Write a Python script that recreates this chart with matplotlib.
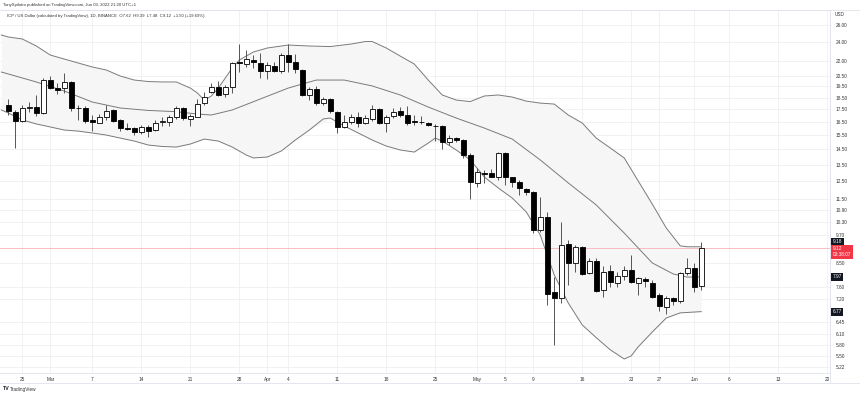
import numpy as np
import pandas as pd
import matplotlib
matplotlib.use("Agg")
import matplotlib.pyplot as plt
from matplotlib.ticker import NullLocator
from matplotlib.lines import Line2D

# ICP / USD daily candles
first_day = "2022-02-23"
open_ = [17.86, 17.28, 16.57, 17.63, 17.69, 17.20, 20.08, 19.30, 19.34, 19.90,
         17.61, 17.63, 16.65, 16.44, 16.86, 17.45, 16.65, 16.03, 16.00, 15.75,
         16.08, 15.88, 16.49, 16.52, 16.86, 17.59, 16.70, 16.91, 18.00, 18.95,
         19.41, 18.81, 19.44, 21.86, 21.70, 22.06, 21.71, 20.98, 21.45, 20.98,
         22.58, 21.81, 21.05, 18.72, 19.23, 18.00, 18.34, 17.32, 16.13, 16.52,
         16.91, 16.44, 16.70, 17.50, 16.39, 16.96, 17.40, 17.04, 16.53, 16.52,
         16.39, 16.22, 16.19, 15.03, 15.27, 15.15, 14.12, 12.41, 12.96, 12.96,
         12.76, 14.23, 12.72, 12.46, 12.02, 11.89, 9.93, 10.54, 7.41, 7.21,
         9.30, 8.52, 9.19, 8.10, 8.60, 7.51, 8.20, 7.75, 8.00, 8.23,
         7.75, 7.90, 7.75, 7.32, 6.92, 7.21, 7.10, 8.10, 8.30, 7.62]
high = [18.37, 17.45, 17.86, 18.11, 18.72, 20.27, 20.46, 19.77, 20.72, 19.96,
        17.86, 17.78, 17.04, 17.12, 17.86, 17.50, 16.70, 16.39, 16.08, 16.26,
        16.26, 16.65, 16.86, 17.04, 17.78, 17.72, 17.12, 18.34, 19.00, 19.83,
        20.01, 19.62, 21.90, 23.79, 23.12, 22.58, 22.76, 21.89, 21.89, 22.76,
        23.76, 22.68, 21.12, 19.46, 19.53, 18.52, 18.43, 17.40, 17.04, 17.12,
        17.32, 17.04, 17.86, 17.59, 17.04, 17.59, 17.72, 17.78, 17.04, 17.00,
        16.52, 16.34, 16.26, 15.51, 15.39, 15.20, 14.23, 13.27, 13.16, 13.20,
        14.34, 14.34, 12.76, 12.56, 12.08, 11.94, 11.60, 10.82, 7.97, 10.33,
        9.48, 9.26, 9.22, 8.70, 8.70, 8.37, 8.43, 8.17, 8.37, 8.83,
        7.97, 7.95, 7.85, 7.38, 7.29, 7.26, 8.17, 8.70, 8.52, 9.39]
low = [17.04, 14.60, 16.49, 17.28, 16.96, 17.12, 19.25, 18.81, 18.90, 17.37,
       16.65, 16.41, 15.83, 16.39, 16.65, 16.52, 15.83, 15.88, 15.51, 15.58,
       15.34, 15.83, 16.19, 16.19, 16.70, 16.65, 16.19, 16.86, 17.86, 18.88,
       18.63, 18.57, 18.90, 20.85, 21.38, 21.23, 20.24, 20.14, 20.89, 20.72,
       20.89, 20.78, 18.63, 18.28, 17.86, 17.86, 17.23, 15.63, 16.00, 16.34,
       16.08, 16.34, 16.60, 16.34, 15.75, 16.78, 16.91, 16.26, 16.26, 16.37,
       16.19, 15.08, 14.50, 14.80, 15.03, 13.90, 11.51, 12.18, 12.37, 12.72,
       12.56, 12.27, 12.18, 11.70, 11.70, 9.78, 9.85, 6.98, 5.79, 7.04,
       7.67, 8.17, 8.04, 8.08, 7.43, 7.26, 7.61, 7.61, 7.85, 7.73,
       7.32, 7.61, 7.21, 6.79, 6.71, 6.98, 7.06, 8.04, 7.43, 7.48]
close = [17.37, 16.57, 17.61, 17.70, 17.20, 20.10, 19.34, 19.16, 19.90, 17.61,
         17.57, 16.60, 16.49, 16.86, 17.39, 16.60, 16.00, 15.99, 15.75, 16.13,
         15.83, 16.44, 16.53, 16.86, 17.59, 16.78, 16.96, 17.94, 18.57, 19.41,
         18.72, 19.41, 21.79, 21.71, 22.13, 21.85, 20.98, 21.55, 20.98, 22.58,
         21.90, 21.12, 18.72, 19.23, 18.00, 18.34, 17.37, 16.08, 16.52, 16.91,
         16.44, 16.78, 17.50, 16.39, 16.91, 17.32, 17.04, 16.44, 16.49, 16.48,
         16.24, 16.19, 15.03, 15.27, 15.15, 14.12, 12.46, 13.06, 12.93, 12.76,
         14.23, 12.72, 12.46, 12.08, 11.85, 9.93, 10.54, 7.35, 7.21, 9.26,
         8.52, 9.19, 8.08, 8.60, 7.47, 8.17, 7.79, 8.00, 8.23, 7.79,
         7.91, 7.80, 7.24, 6.95, 7.21, 7.12, 8.10, 8.30, 7.61, 9.12]

# Bollinger bands (20, 2) read at sampled bars
upper_idx = [-1, 0, 2, 4, 6, 8, 10, 12, 14, 16, 18, 20, 22, 24, 26, 27, 28, 29, 30,
             31, 32, 33, 35, 37, 40, 43, 46, 49, 51, 52, 54, 56, 58, 60, 62, 64, 66,
             68, 70, 72, 74, 76, 78, 80, 82, 84, 86, 88, 90, 92, 94, 96, 97, 99]
upper = [24.81, 24.58, 24.35, 23.56, 22.58, 22.16, 21.75, 21.35, 21.05, 20.46,
         20.08, 19.94, 19.90, 19.90, 19.34, 18.90, 18.28, 18.63, 19.34, 20.27,
         21.25, 22.06, 22.90, 23.34, 23.67, 23.56, 23.50, 23.78, 24.06, 24.06,
         23.34, 22.47, 21.65, 20.08, 18.72, 18.28, 18.15, 18.63, 18.72, 18.54,
         18.19, 18.02, 17.94, 17.04, 16.41, 15.29, 14.60, 13.93, 12.50, 11.22,
         10.03, 9.22, 9.18, 9.18]
basis_idx = [-1, 0, 4, 8, 12, 16, 20, 24, 27, 29, 32, 36, 40, 44, 48, 52, 56, 60,
             64, 68, 72, 76, 80, 84, 88, 92, 95, 97, 99]
basis = [20.85, 20.66, 19.90, 19.07, 18.11, 17.61, 17.41, 17.31, 17.12, 17.04,
         17.45, 18.37, 19.34, 20.08, 20.08, 19.53, 18.72, 17.69, 16.80, 16.03,
         15.22, 13.80, 12.39, 11.17, 9.79, 8.51, 8.08, 7.96, 7.97]
lower_idx = [-1, 0, 2, 4, 6, 8, 10, 12, 14, 16, 18, 20, 22, 24, 26, 28, 30, 32, 34,
             35, 37, 39, 41, 43, 45, 46, 48, 50, 52, 54, 56, 58, 60, 61, 62, 64, 66,
             68, 70, 72, 74, 76, 77, 78, 80, 82, 84, 86, 88, 89, 90, 92, 94, 96, 99]
lower = [17.45, 17.20, 16.65, 16.34, 16.11, 15.88, 15.80, 15.66, 15.51, 15.29,
         15.08, 14.80, 14.70, 14.66, 14.87, 15.22, 15.08, 14.66, 14.12, 13.93,
         13.99, 14.39, 15.15, 15.88, 16.73, 16.80, 16.18, 15.66, 15.15, 14.73,
         14.46, 14.32, 14.94, 15.29, 15.08, 14.46, 13.80, 12.74, 12.10, 11.54,
         10.81, 9.70, 8.83, 8.04, 7.05, 6.36, 5.99, 5.66, 5.42, 5.50,
         5.74, 6.15, 6.57, 6.73, 6.77]

price_ticks = [26.00, 24.00, 22.00, 20.50, 19.50, 18.50, 17.50, 16.50, 15.50, 14.50,
               13.50, 12.50, 11.50, 10.90, 10.30, 9.70, 8.50, 7.60, 7.20, 6.45,
               6.10, 5.80, 5.50, 5.22]
date_ticks = ["2022-02-25", "2022-03-01", "2022-03-07", "2022-03-14", "2022-03-21",
              "2022-03-28", "2022-04-01", "2022-04-04", "2022-04-11", "2022-04-18",
              "2022-04-25", "2022-05-01", "2022-05-05", "2022-05-09", "2022-05-16",
              "2022-05-23", "2022-05-27", "2022-06-01", "2022-06-06", "2022-06-13",
              "2022-06-20"]
date_labels = ["25", "Mar", "7", "14", "21", "28", "Apr", "4", "11", "18", "25",
               "May", "5", "9", "16", "23", "27", "Jun", "6", "13", "20"]

last_price = 9.12
countdown = "03:38:07"

o = np.array(open_)
h = np.array(high)
l = np.array(low)
c = np.array(close)
x = np.arange(len(c))
rise = c >= o

plt.rcParams["font.family"] = ["Liberation Sans", "DejaVu Sans"]
FS = 3.4
W, H = 860, 395
fig = plt.figure(figsize=(W / 100, H / 100), dpi=100)
ax = fig.add_axes([0, 22 / H, 830 / W, 363 / H])
ax.set_yscale("log")

# bands
ax.fill_between(upper_idx, np.interp(upper_idx, lower_idx, lower), upper,
                color="#f6f6f6", lw=0, zorder=1)
ax.plot(upper_idx, upper, color="#7a7a7a", lw=0.7, zorder=2)
ax.plot(basis_idx, basis, color="#7a7a7a", lw=0.7, zorder=2)
ax.plot(lower_idx, lower, color="#7a7a7a", lw=0.7, zorder=2)

# last price line
ax.axhline(last_price, color="#f7b3b8", lw=0.6, zorder=1.5)

# candles
body_lo = np.minimum(o, c)
body_h = np.abs(c - o)
ax.vlines(x, l, h, color="#555555", lw=0.7, zorder=3)
ax.bar(x[rise], body_h[rise], bottom=body_lo[rise], width=0.68, color="white",
       edgecolor="black", lw=0.6, zorder=4)
ax.bar(x[~rise], body_h[~rise], bottom=body_lo[~rise], width=0.68, color="black",
       edgecolor="black", lw=0.6, zorder=4)

ax.set_xlim(-1.19, 117.4)
ax.set_ylim(5.075, 27.9)

# axes / ticks
ax.yaxis.tick_right()
ax.set_yticks(price_ticks)
ax.set_yticklabels([f"{v:.2f}" for v in price_ticks])
ax.yaxis.set_minor_locator(NullLocator())
dates = pd.date_range(first_day, periods=len(c))
tick_pos = (pd.to_datetime(date_ticks) - dates[0]).days
ax.set_xticks(tick_pos)
ax.set_xticklabels(date_labels)
ax.tick_params(axis="y", length=0, pad=4, labelsize=FS, colors="#333333")
ax.tick_params(axis="x", length=0, pad=3, labelsize=FS, colors="#333333")
ax.grid(True, color="#f0f0f0", lw=0.6, zorder=0)
ax.set_axisbelow(True)
ax.spines["left"].set_visible(False)
for s in ["top", "right", "bottom"]:
    ax.spines[s].set_color("#e0e3eb")
    ax.spines[s].set_linewidth(0.6)

# price tags on the scale
def tag(val, txt, fc, dy=0.0, va="center"):
    ax.annotate(txt, xy=(1.0, val), xycoords=("axes fraction", "data"),
                xytext=(2.0, dy), textcoords="offset points", ha="left", va=va,
                fontsize=FS, color="white", linespacing=1.35,
                bbox=dict(boxstyle="square,pad=0.3", fc=fc, ec="none"))

tag(upper[-1], f"{upper[-1]:.2f}", "#131722", dy=3.6)
tag(last_price, f"{last_price:.2f}\n{countdown}", "#f23645", dy=1.6, va="top")
tag(basis[-1], f"{basis[-1]:.2f}", "#131722")
tag(lower[-1], f"{lower[-1]:.2f}", "#131722")

# frame and header
fig.add_artist(Line2D([0, 1], [1 - 10 / H, 1 - 10 / H], color="#e0e3eb", lw=0.6))
fig.add_artist(Line2D([0, 1], [1 - 383 / H, 1 - 383 / H], color="#e0e3eb", lw=0.6))
fig.add_artist(Line2D([830 / W, 830 / W], [1 - 383 / H, 1 - 10 / H], color="#e0e3eb", lw=0.6))
fig.text(3 / W, 1 - 5 / H, "TonySpilotro published on TradingView.com, Jun 03, 2022 21:20 UTC+1",
         fontsize=3.1, color="#333333", va="center")
fig.text(7 / W, 1 - 15.5 / H,
         "ICP / US Dollar (calculated by TradingView), 1D, BINANCE  O7.62  H9.39  L7.48  C9.12  +1.50 (+19.69%)",
         fontsize=3.1, color="#333333", va="center")
fig.text(835 / W, 1 - 14 / H, "USD", fontsize=FS, color="#333333", va="center")
fig.text(3 / W, 1 - 389 / H, "TV", fontsize=FS + 0.4, color="#131722", va="center",
         fontweight="bold")
fig.text(10 / W, 1 - 389 / H, "TradingView", fontsize=FS, color="#333333", va="center")

fig.savefig("out.png", dpi=100, facecolor="white")
